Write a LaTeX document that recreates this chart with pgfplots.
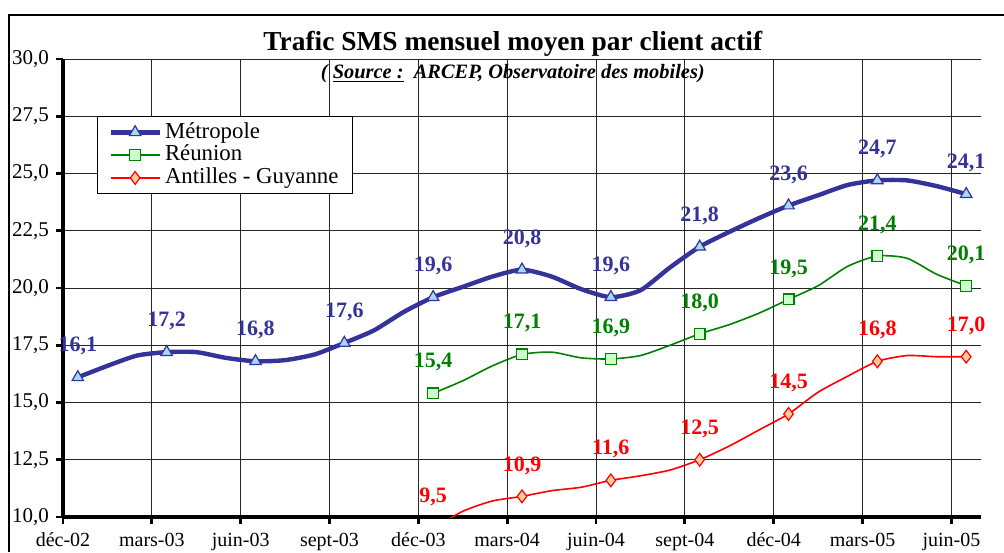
\documentclass[border=0pt]{standalone}
\usepackage{pgfplots}
\pgfplotsset{compat=1.18}
\usepackage{fontspec}
\setmainfont{Liberation Serif}
\definecolor{metro}{HTML}{333399}
\definecolor{metrofill}{HTML}{A6D8F8}
\definecolor{reun}{HTML}{008000}
\definecolor{reunfill}{HTML}{CCFFCC}
\definecolor{anti}{HTML}{FF0000}
\definecolor{antifill}{HTML}{FFCC99}

\pgfplotstableread{
x y
0.5 16.1
1.5 16.6
2.5 17.05
3.5 17.2
4.5 17.2
5.5 16.95
6.5 16.8
7.5 16.85
8.5 17.1
9.5 17.6
10.5 18.15
11.5 18.95
12.5 19.6
13.5 20.05
14.5 20.5
15.5 20.8
16.5 20.5
17.5 19.95
18.5 19.6
19.5 19.9
20.5 20.9
21.5 21.8
22.5 22.45
23.5 23.05
24.5 23.6
25.5 24.05
26.5 24.5
27.5 24.7
28.5 24.7
29.5 24.45
30.5 24.1
}\metroline

\pgfplotstableread{
x y
0.5 16.1
3.5 17.2
6.5 16.8
9.5 17.6
12.5 19.6
15.5 20.8
18.5 19.6
21.5 21.8
24.5 23.6
27.5 24.7
30.5 24.1
}\metropts

\pgfplotstableread{
x y
12.5 15.4
13.5 15.95
14.5 16.6
15.5 17.1
16.5 17.2
17.5 16.95
18.5 16.9
19.5 17.05
20.5 17.5
21.5 18.0
22.5 18.4
23.5 18.9
24.5 19.5
25.5 20.1
26.5 20.95
27.5 21.4
28.5 21.3
29.5 20.6
30.5 20.1
}\reunline

\pgfplotstableread{
x y
12.5 15.4
15.5 17.1
18.5 16.9
21.5 18.0
24.5 19.5
27.5 21.4
30.5 20.1
}\reunpts

\pgfplotstableread{
x y
12.5 9.5
13.5 10.25
14.5 10.7
15.5 10.9
16.5 11.15
17.5 11.3
18.5 11.6
19.5 11.8
20.5 12.05
21.5 12.5
22.5 13.1
23.5 13.8
24.5 14.5
25.5 15.45
26.5 16.15
27.5 16.8
28.5 17.05
29.5 17.0
30.5 17.0
}\antiline

\pgfplotstableread{
x y
15.5 10.9
18.5 11.6
21.5 12.5
24.5 14.5
27.5 16.8
30.5 17.0
}\antipts

\begin{document}
\begin{tikzpicture}
\useasboundingbox (-31.5pt,-17.5pt) rectangle (470.5pt,258.5pt);
\begin{axis}[
  at={(0,0)}, anchor=south west,
  scale only axis, width=459pt, height=229pt,
  xmin=0, xmax=31, ymin=10, ymax=30,
  axis x line*=bottom, axis y line*=left,
  axis line style={line width=1.6pt},
  tick align=outside, major tick length=3.5pt,
  tick style={line width=1.4pt, black},
  grid=major, grid style={black!85, line width=0.5pt},
  xtick={0,3,...,30},
  xticklabels={déc-02, mars-03, juin-03, sept-03, déc-03, mars-04, juin-04, sept-04, déc-04, mars-05, juin-05},
  ytick={10,12.5,...,30},
  /pgf/number format/.cd, use comma, fixed, fixed zerofill, precision=1, assume math mode=true,
  /pgfplots/.cd,
  xticklabel style={font=\fontsize{10}{12}\selectfont, yshift=-1pt},
  yticklabel style={font=\fontsize{10.5}{12}\selectfont},
  clip mode=individual,
  legend style={at={(0.037,0.8755)}, anchor=north west, draw=black, line width=0.5pt, fill=white,
    font=\fontsize{11.4}{12}\selectfont, inner xsep=5.5pt, inner ysep=2.2pt,
    nodes={inner ysep=0.4pt, inner xsep=1.6pt, text height=8.2pt, text depth=2.4pt}},
  legend cell align=left,
  legend image code/.code={\draw[mark repeat=2,mark phase=2] plot coordinates {(0cm,0cm) (0.43cm,0cm) (0.86cm,0cm)};},
  every node near coord/.append style={font=\bfseries\fontsize{11}{11}\selectfont, anchor=center, yshift=15.5pt},
]
\addlegendimage{metro, line width=2.2pt, mark=triangle*, mark size=3.3pt, mark options={draw=metro, fill=metrofill, line width=0.6pt}}
\addlegendentry{Métropole}
\addlegendimage{reun, line width=0.8pt, mark=square*, mark size=2.7pt, mark options={draw=reun, fill=reunfill, line width=0.6pt}}
\addlegendentry{Réunion}
\addlegendimage{anti, line width=0.8pt, mark=diamond*, mark size=3.2pt, mark options={draw=anti, fill=antifill, line width=0.6pt}}
\addlegendentry{Antilles - Guyanne}

\addplot[forget plot, metro, line width=2.2pt, smooth, tension=0.4, mark=none] table {\metroline};
\addplot[forget plot, reun, line width=0.8pt, smooth, tension=0.4, mark=none] table {\reunline};
\addplot[forget plot, anti, line width=0.8pt, smooth, tension=0.4, mark=none] table {\antiline};

\addplot[forget plot, only marks, mark=triangle*, mark size=3.3pt, mark options={draw=metro, fill=metrofill, line width=0.6pt},
  nodes near coords, every node near coord/.append style={text=metro}] table {\metropts};
\addplot[forget plot, only marks, mark=square*, mark size=2.7pt, mark options={draw=reun, fill=reunfill, line width=0.6pt},
  nodes near coords, every node near coord/.append style={text=reun}] table {\reunpts};
\addplot[forget plot, only marks, mark=diamond*, mark size=3.2pt, mark options={draw=anti, fill=antifill, line width=0.6pt},
  nodes near coords, every node near coord/.append style={text=anti}] table {\antipts};
% label of the Dec-03 Antilles value (9,5), whose point lies below the axis
\addplot[forget plot, only marks, mark=*, mark size=0.01pt, mark options={draw=none, fill=none},
  nodes near coords={9,5}, every node near coord/.append style={text=anti, yshift=-5.7pt}] coordinates {(12.5,10.02)};

\node[anchor=base, font=\bfseries\fontsize{13.7}{15}\selectfont] at (axis description cs:0.490,1) [yshift=4.5pt] {Trafic SMS mensuel moyen par client actif};
\node[anchor=base, font=\bfseries\itshape\fontsize{10.2}{12}\selectfont] at (axis description cs:0.490,1) [yshift=-9.5pt] {( \underline{Source :}\ \ ARCEP, Observatoire des mobiles)};
\end{axis}
\draw[line width=0.8pt] (-27pt,-17.5pt) -- (-27pt,251pt) -- (470.5pt,251pt);
\end{tikzpicture}
\end{document}
